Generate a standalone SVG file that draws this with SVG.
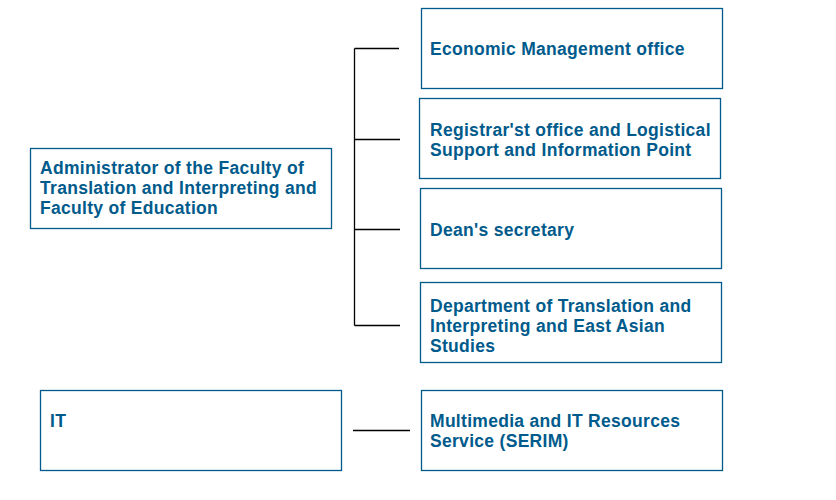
<svg xmlns="http://www.w3.org/2000/svg" width="836" height="500" viewBox="0 0 836 500">
<style>
.box{fill:#fff;stroke:#005b8c;stroke-width:1.3}
.t{font-family:"Liberation Sans",Arial,sans-serif;font-weight:bold;font-size:17.5px;letter-spacing:0.3px;fill:#005b8c}
.c{stroke:#000;stroke-width:1.3;fill:none}
</style>
<rect width="836" height="500" fill="#fff"/>
<g id="connectors">
<path class="c" d="M354.5 48.5V325.5M354.5 48.5H399M354.5 139.5H400M354.5 229.5H400M354.5 325.5H400M353 430.5H410"/>
</g>
<g id="admin"><rect class="box" x="30.5" y="148.5" width="301" height="80"/>
<text class="t" x="40" y="174">Administrator of the Faculty of</text>
<text class="t" x="40" y="194">Translation and Interpreting and</text>
<text class="t" x="40" y="214">Faculty of Education</text></g>
<g id="economic"><rect class="box" x="421.5" y="8.5" width="301" height="80"/>
<text class="t" x="430" y="54.5">Economic Management office</text></g>
<g id="registrar"><rect class="box" x="419.5" y="98.5" width="301" height="80"/>
<text class="t" x="430" y="135.5">Registrar'st office and Logistical</text>
<text class="t" x="430" y="155.5">Support and Information Point</text></g>
<g id="dean"><rect class="box" x="420.5" y="188.5" width="301" height="80"/>
<text class="t" x="430" y="235.5">Dean's secretary</text></g>
<g id="department"><rect class="box" x="420.5" y="282.5" width="301" height="80"/>
<text class="t" x="430" y="311.5">Department of Translation and</text>
<text class="t" x="430" y="331.5">Interpreting and East Asian</text>
<text class="t" x="430" y="351.5">Studies</text></g>
<g id="it"><rect class="box" x="40.5" y="390.5" width="301" height="80"/>
<text class="t" x="50" y="426.5">IT</text></g>
<g id="serim"><rect class="box" x="421.5" y="390.5" width="301" height="80"/>
<text class="t" x="430" y="426.5">Multimedia and IT Resources</text>
<text class="t" x="430" y="446.5">Service (SERIM)</text></g>
</svg>
